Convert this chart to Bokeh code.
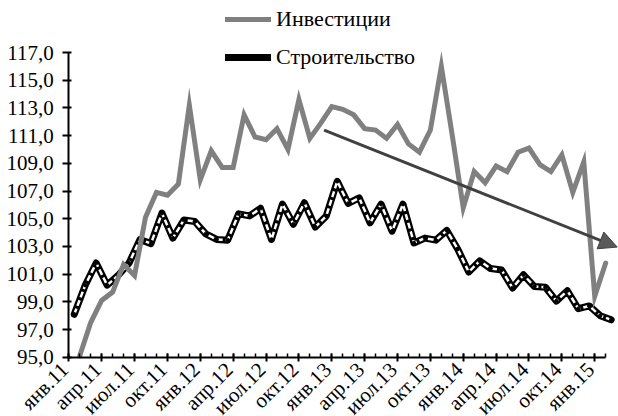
import math
from bokeh.plotting import figure
from bokeh.models import (Range1d, FixedTicker, CustomJSTickFormatter, Legend, LegendItem,
                          Arrow, NormalHead)
from bokeh.core.properties import value
from bokeh.embed import file_html
from bokeh.resources import INLINE

# ---- data ----
mon = ["янв", "фев", "мар", "апр", "май", "июн", "июл", "авг", "сен", "окт", "ноя", "дек"]
months = [f"{mon[i % 12]}.{11 + i // 12}" for i in range(50)]   # янв.11 ... фев.15
tick_labels = months[0:49:3]                                      # янв.11, апр.11, ... янв.15

# Строительство (monthly, янв.11 .. фев.15)
construction = [98.1, 100.2, 101.8, 100.2, 100.9, 101.8, 103.5, 103.2, 105.4, 103.6,
                104.9, 104.8, 103.9, 103.5, 103.45, 105.35, 105.2, 105.75, 103.5, 106.05,
                104.6, 106.15, 104.4, 105.2, 107.7, 106.1, 106.5, 104.7, 106.05, 104.1,
                106.05, 103.25, 103.6, 103.45, 104.15, 102.8, 101.15, 101.95, 101.4, 101.3,
                100.0, 100.95, 100.1, 100.05, 99.05, 99.8, 98.5, 98.7, 98.0, 97.7]

# Инвестиции (фев.11 .. фев.15, plotted on tick marks)
investment = [95.1, 97.5, 99.1, 99.7, 101.7, 100.9, 105.1, 106.9, 106.7, 107.5,
              113.2, 107.8, 109.9, 108.7, 108.7, 112.5, 110.9, 110.7, 111.5, 110.0,
              113.6, 110.8, 111.9, 113.1, 112.9, 112.5, 111.5, 111.4, 110.8, 111.8,
              110.4, 109.8, 111.4, 116.0, 111.0, 105.8, 108.4, 107.6, 108.8, 108.4,
              109.8, 110.1, 108.9, 108.4, 109.6, 106.9, 109.1, 99.4, 101.8]

y_ticks = list(range(95, 118, 2))
y_tick_labels = [f"{v},0" for v in y_ticks]
Y_MIN, Y_MAX = 95, 117

# trend arrow (annotation)
trend_start = (23.3, 111.4)
trend_end = (50.05, 102.95)

# ---- positions from category index ----
cx = [i + 0.5 for i in range(len(construction))]
ix = [i + 1 for i in range(len(investment))]
tick_pos = [i for i in range(0, 49, 3)]

FONT = "Liberation Serif"
W, H = 618, 416
TOP, LEFT = 5, 6          # frame edges (px)
AXIS_X, AXIS_Y = 68.3, 356.7
PX_X, PX_Y = 10.957, 13.85
x_start = -(AXIS_X - LEFT) / PX_X
x_end = (W - AXIS_X) / PX_X
y_start = Y_MIN - (H - AXIS_Y) / PX_Y
y_end = y_start + (H - TOP) / PX_Y

p = figure(width=W, height=H, output_backend="svg", toolbar_location=None,
           x_axis_location="above",
           x_range=Range1d(x_start, x_end), y_range=Range1d(y_start, y_end),
           min_border_left=LEFT, min_border_right=0, min_border_top=TOP,
           min_border_bottom=0)
p.outline_line_color = None
p.grid.visible = False
p.background_fill_color = "white"
p.border_fill_color = "white"

# y axis (value axis), labels drawn as text below
ya = p.yaxis[0]
ya.fixed_location = 0
ya.bounds = (Y_MIN, Y_MAX)
ya.ticker = FixedTicker(ticks=y_ticks, minor_ticks=[])
ya.formatter = CustomJSTickFormatter(code="return '';")
ya.major_label_standoff = 0
ya.axis_line_width = 2
ya.axis_line_color = "black"
ya.major_tick_line_width = 2
ya.major_tick_line_color = "black"
ya.major_tick_in = 3
ya.major_tick_out = 6
ya.minor_tick_in = 0
ya.minor_tick_out = 0

# x axis (categories)
xa = p.xaxis[0]
xa.fixed_location = Y_MIN
xa.bounds = (0, 49)
xa.ticker = FixedTicker(ticks=tick_pos, minor_ticks=list(range(0, 50)))
xa.formatter = CustomJSTickFormatter(code="return '';")
xa.major_label_standoff = 0
xa.axis_line_width = 2
xa.axis_line_color = "black"
xa.major_tick_line_width = 2
xa.major_tick_line_color = "black"
xa.major_tick_in = 4
xa.major_tick_out = 4
xa.minor_tick_line_width = 1.5
xa.minor_tick_line_color = "black"
xa.minor_tick_in = 0
xa.minor_tick_out = 4

# series
black = p.line(cx, construction, line_color="black", line_width=7,
               line_join="round", line_cap="round")
p.line(cx, construction, line_color="white", line_width=2.5, line_dash="6 3",
       line_join="round")
p.scatter(cx, construction, size=3.5, color="black")
gray = p.line(ix, investment, line_color="#808080", line_width=5,
              line_join="miter", line_cap="round")

# axis labels
p.text(x=[0] * len(y_ticks), y=y_ticks, text=y_tick_labels,
       text_align="right", text_baseline="middle", x_offset=-15,
       text_font=value(FONT), text_font_size=value("21px"), text_color="black")
p.text(x=tick_pos, y=[Y_MIN] * len(tick_pos), text=tick_labels, angle=math.pi / 4,
       text_align="right", text_baseline="middle", x_offset=-4, y_offset=9,
       text_font=value(FONT), text_font_size=value("21px"), text_color="black")

# trend arrow
p.add_layout(Arrow(end=NormalHead(size=18, fill_color="#5a5a5a", line_color="#404040", line_width=1),
                   x_start=trend_start[0], y_start=trend_start[1],
                   x_end=trend_end[0], y_end=trend_end[1],
                   line_color="#404040", line_width=3))

legend = Legend(items=[LegendItem(label="Инвестиции", renderers=[gray]),
                       LegendItem(label="Строительство", renderers=[black])],
                location=(225 - LEFT, H - 70), orientation="vertical",
                glyph_width=46, glyph_height=24, label_height=24, spacing=12,
                padding=0, margin=0, label_standoff=5,
                border_line_color=None, background_fill_alpha=0,
                label_text_font=FONT, label_text_font_size="22px",
                label_text_color="black")
p.add_layout(legend)

open("out.html", "w").write(file_html(p, INLINE))
